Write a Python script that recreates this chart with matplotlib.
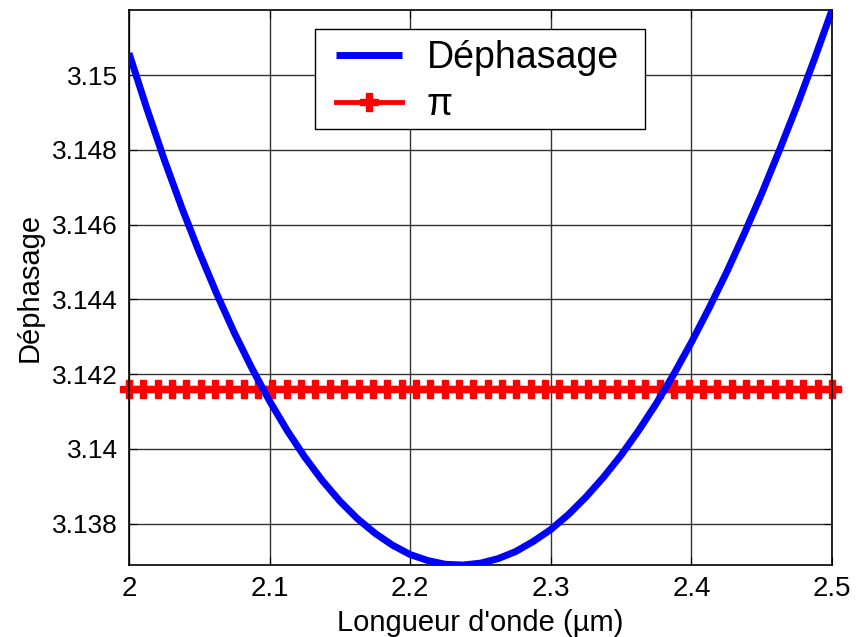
import numpy as np
import matplotlib
matplotlib.use('Agg')
import matplotlib.pyplot as plt
from matplotlib.patches import Rectangle

plt.rcParams['font.family'] = ['Liberation Sans', 'DejaVu Sans']

# wavelength (um) and phase shift
wl = [2.0000, 2.0125, 2.0250, 2.0375, 2.0500, 2.0625, 2.0750, 2.0875,
      2.1000, 2.1125, 2.1250, 2.1375, 2.1500, 2.1625, 2.1750, 2.1875,
      2.2000, 2.2125, 2.2250, 2.2375, 2.2500, 2.2625, 2.2750, 2.2875,
      2.3000, 2.3125, 2.3250, 2.3375, 2.3500, 2.3625, 2.3750, 2.3875,
      2.4000, 2.4125, 2.4250, 2.4375, 2.4500, 2.4625, 2.4750, 2.4875,
      2.5000]
dephasage = [3.15059, 3.14913, 3.14775, 3.14646, 3.14526, 3.14414, 3.14310, 3.14215,
             3.14128, 3.14049, 3.13978, 3.13915, 3.13860, 3.13813, 3.13774, 3.13742,
             3.13717, 3.13701, 3.13691, 3.13689, 3.13694, 3.13706, 3.13725, 3.13752,
             3.13784, 3.13824, 3.13871, 3.13924, 3.13983, 3.14049, 3.14121, 3.14200,
             3.14285, 3.14376, 3.14472, 3.14575, 3.14683, 3.14798, 3.14917, 3.15043,
             3.15174]

# reference line at pi (50 markers across the range)
wl_pi = np.linspace(2.0, 2.5, 50)
val_pi = np.full(wl_pi.shape, np.pi)

xticks = [2.0, 2.1, 2.2, 2.3, 2.4, 2.5]
xticklabels = ['2', '2.1', '2.2', '2.3', '2.4', '2.5']
yticks = [3.138, 3.140, 3.142, 3.144, 3.146, 3.148, 3.150]
yticklabels = ['3.138', '3.14', '3.142', '3.144', '3.146', '3.148', '3.15']

fig = plt.figure(figsize=(8.57, 6.37), dpi=100)
ax = fig.add_axes([0.1505, 0.113, 0.8203, 0.871])

ax.plot(wl, dephasage, '-', color='#0000ff', lw=5, label='Déphasage',
        solid_capstyle='butt', solid_joinstyle='round', zorder=3)
ax.plot(wl_pi, val_pi, '-', color='#ff0000', lw=3.5, marker='P', ms=12.5,
        mec='#ff0000', mfc='#ff0000', label='\u03c0', zorder=2, clip_on=False)

ax.set_xlim(2.0, 2.5)
ax.set_ylim(3.13689, 3.15174)
ax.set_xticks(xticks)
ax.set_xticklabels(xticklabels)
ax.set_yticks(yticks)
ax.set_yticklabels(yticklabels)
ax.tick_params(direction='in', length=6, labelsize=19, pad=8,
               top=True, right=True)
ax.tick_params(axis='x', labelsize=20, pad=8)
ax.grid(True, color='#333333', lw=1.0, ls='-')
ax.set_axisbelow(True)
for sp in ax.spines.values():
    sp.set_linewidth(1.2)

ax.set_xlabel("Longueur d'onde (µm)", fontsize=21, labelpad=5)
ax.set_ylabel('Déphasage', fontsize=21, labelpad=6)

# legend box drawn separately so the inner padding matches
frame = Rectangle((0.2646, 0.7856), 0.4694, 0.1802, transform=ax.transAxes,
                  facecolor='white', edgecolor='black', lw=1.0, zorder=4)
ax.add_patch(frame)
leg = ax.legend(loc='center left', bbox_to_anchor=(0.2945, 0.8712),
                borderaxespad=0, borderpad=0, fontsize=27, frameon=False,
                handlelength=1.76, handletextpad=0.65, labelspacing=0.29)
leg.set_zorder(5)

fig.savefig('out.png', dpi=100)
